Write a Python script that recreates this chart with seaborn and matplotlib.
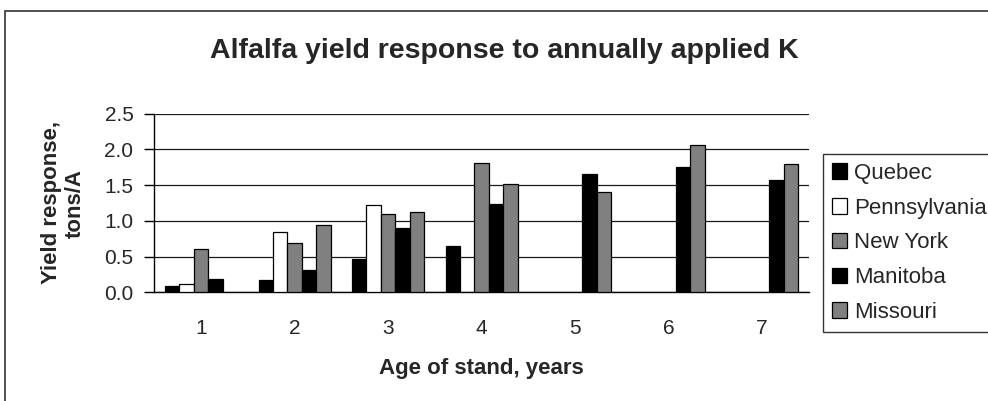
import numpy as np
import pandas as pd
import matplotlib
matplotlib.use("Agg")
import matplotlib.pyplot as plt
import seaborn as sns
from matplotlib.patches import Rectangle
from matplotlib.ticker import FixedLocator

# Yield response (tons/A) by age of stand; NaN = no measurement
ages = ["1", "2", "3", "4", "5", "6", "7"]
sites = ["Quebec", "Pennsylvania", "New York", "Manitoba", "Missouri"]
quebec = [0.09, 0.17, 0.46, 0.65, np.nan, np.nan, np.nan]
pennsylvania = [0.11, 0.85, 1.22, np.nan, np.nan, np.nan, np.nan]
new_york = [0.61, 0.69, 1.10, 1.81, np.nan, np.nan, np.nan]
manitoba = [0.19, 0.31, 0.90, 1.24, 1.66, 1.76, 1.57]
missouri = [np.nan, 0.94, 1.12, 1.51, 1.41, 2.06, 1.79]
y_ticks = [0.0, 0.5, 1.0, 1.5, 2.0, 2.5]

series = [quebec, pennsylvania, new_york, manitoba, missouri]
df = pd.DataFrame(
    [(a, s, v) for s, vals in zip(sites, series) for a, v in zip(ages, vals)],
    columns=["age", "site", "value"],
)
colors = ["#000000", "#ffffff", "#808080", "#000000", "#808080"]

sns.set_style("white")
plt.rcParams["font.family"] = ["Liberation Sans", "DejaVu Sans"]

W, H = 988, 401
fig = plt.figure(figsize=(W / 100, H / 100), dpi=100)
ax = fig.add_axes([154.3 / W, 1 - 292.3 / H, (808.8 - 154.3) / W, (292.3 - 113.7) / H])

sns.barplot(
    data=df, x="age", y="value", hue="site", hue_order=sites, order=ages,
    palette=colors, width=5 / 6.5, edgecolor="black", linewidth=0.9,
    errorbar=None, ax=ax, zorder=3,
)

ax.set_xlim(-0.5, len(ages) - 0.5)
ax.set_ylim(0, 2.5)
ax.set_yticks(y_ticks)
ax.set_yticklabels([f"{t:.1f}" for t in y_ticks], fontsize=15)
ax.set_xticks(range(len(ages)))
ax.set_xticklabels(ages, fontsize=15)
ax.xaxis.set_minor_locator(FixedLocator(np.arange(-0.5, len(ages), 1.0)))
ax.tick_params(axis="x", which="major", length=0, pad=19.5)
ax.tick_params(axis="x", which="minor", length=6, width=1, color="black", direction="out")
ax.tick_params(axis="y", length=7, width=1, color="black", direction="out", left=True, pad=8)

ax.yaxis.grid(True, color="#1a1a1a", linewidth=0.9)
ax.set_axisbelow(True)
for side in ("top", "right"):
    ax.spines[side].set_visible(False)
for side in ("left", "bottom"):
    ax.spines[side].set_color("black")
    ax.spines[side].set_linewidth(1.0)

ax.set_xlabel("Age of stand, years", fontsize=16, fontweight="bold", labelpad=14)
ax.set_ylabel("Yield response,\ntons/A", fontsize=16, fontweight="bold", labelpad=13,
              linespacing=1.22)

fig.text(504 / W, 1 - 51 / H, "Alfalfa yield response to annually applied K",
         fontsize=20.5, fontweight="bold", ha="center", va="center")

handles, labels = ax.get_legend_handles_labels()
leg = ax.legend(
    handles, labels, loc="upper left", bbox_to_anchor=(822.7 / W, 1 - 154 / H),
    bbox_transform=fig.transFigure, fontsize=16, frameon=True, fancybox=False,
    handlelength=0.7, handleheight=0.7, handletextpad=0.3, labelspacing=0.62,
    borderpad=0.4, borderaxespad=0,
)
leg.get_frame().set_edgecolor("black")
leg.get_frame().set_linewidth(1.0)
for h in leg.legend_handles:
    h.set_edgecolor("black")
    h.set_linewidth(0.9)

# outer chart border
fig.patches.append(Rectangle((5 / W, -0.1), 2, 1 - 11 / H + 0.1, transform=fig.transFigure,
                             fill=False, edgecolor="#333333", linewidth=1.2))

fig.savefig("out.png", dpi=100)
